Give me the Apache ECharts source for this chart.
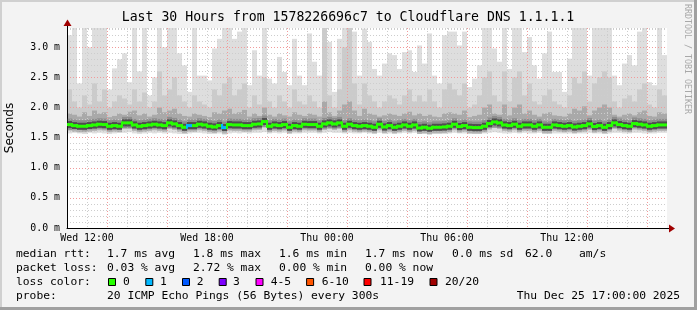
<!DOCTYPE html>
<html><head><meta charset="utf-8">
<script src="https://cdn.jsdelivr.net/npm/echarts@6/dist/echarts.min.js"></script>
<style>html,body{margin:0;padding:0;background:#f3f3f3}#c{width:697px;height:310px}</style>
</head><body><div id="c"></div>
<script>
// ---- data (values in milliseconds, one sample per 15 minutes, starting Wed 11:00) ----
const xTickLabels = ['Wed 12:00','Wed 18:00','Thu 00:00','Thu 06:00','Thu 12:00'];
const yTickLabels = ['0.0 m','0.5 m','1.0 m','1.5 m','2.0 m','2.5 m','3.0 m'];
const sampleHours = 0.25;

const rttMax = [
 3.2,3.4,2.4,3.4,3.0,3.4,3.4,3.4,2.3,2.65,2.8,2.9,2.42,3.4,2.6,3.4,2.2,2.5,3.4,3.0,3.4,3.4,2.9,2.7,
 2.26,3.4,2.53,2.53,2.45,2.98,3.14,3.4,3.4,3.14,3.26,3.4,2.37,2.95,2.53,3.4,2.48,2.4,2.84,2.59,2.37,3.14,2.53,2.37,
 3.23,2.76,2.53,3.4,3.09,2.26,3.14,3.4,3.4,3.26,2.53,3.31,3.09,2.64,2.53,2.73,2.9,2.87,2.64,2.92,2.95,2.59,3.03,2.73,
 3.23,2.53,2.4,3.2,3.26,3.26,3.03,3.26,2.34,2.48,2.7,3.4,3.4,2.98,2.76,3.4,2.64,3.4,3.4,2.92,3.17,2.7,2.48,2.9,
 3.26,2.59,2.59,2.26,2.81,3.4,3.4,3.4,2.53,3.4,3.4,3.4,3.4,2.53,2.37,2.73,2.87,2.7,3.26,3.4,2.42,2.37,3.4,2.87
];
const rttHigh = [
 2.3,2.1,2.0,2.2,2.05,2.4,2.1,2.3,2.0,2.1,2.2,2.15,2.05,2.3,2.1,2.25,2.0,2.1,2.6,2.2,2.3,2.5,2.2,2.1,
 2.0,2.2,2.1,2.05,2.0,2.3,2.2,2.4,2.5,2.2,2.3,2.4,2.0,2.2,2.05,2.5,2.1,2.0,2.2,2.1,2.0,2.3,2.1,2.05,
 2.2,2.1,2.0,3.4,2.2,2.0,2.3,3.0,3.4,2.4,2.05,2.4,2.2,2.1,2.0,2.1,2.2,2.15,2.05,2.2,2.3,2.1,2.2,2.1,
 2.3,2.1,2.0,2.3,2.4,2.3,2.2,2.4,2.0,2.05,2.2,2.5,2.6,2.2,2.1,2.6,2.1,2.5,2.6,2.2,2.4,2.1,2.05,2.2,
 2.3,2.1,2.05,2.0,2.2,2.5,2.4,2.6,2.1,2.4,2.5,2.6,2.5,2.1,2.0,2.15,2.2,2.1,2.3,2.4,2.05,2.0,2.3,2.2
];
const rttUpper = [
 1.9,1.88,1.85,1.92,1.86,1.95,1.9,1.92,1.84,1.86,1.9,1.88,1.93,1.95,1.87,1.9,1.85,1.88,2.0,1.92,1.95,1.98,1.9,1.86,
 1.85,1.9,1.88,1.86,1.84,1.92,1.9,1.95,1.98,1.9,1.92,1.96,1.85,1.9,1.86,2.0,1.88,1.85,1.9,1.87,1.85,1.92,1.88,1.86,
 1.9,1.88,1.85,2.1,1.92,1.86,1.95,2.05,2.1,1.95,1.86,1.98,1.9,1.88,1.85,1.87,1.9,1.88,1.86,1.9,1.93,1.87,1.9,1.86,
 1.88,1.85,1.84,1.9,1.92,1.9,1.88,1.95,1.84,1.86,1.88,2.0,2.05,1.9,1.88,2.05,1.87,2.0,2.05,1.9,1.95,1.88,1.85,1.9,
 1.92,1.87,1.86,1.85,1.9,1.98,1.95,2.02,1.87,1.95,2.0,2.05,2.0,1.88,1.85,1.88,1.9,1.87,1.92,1.95,1.86,1.85,1.92,1.9
];
const rttMedian = [
 1.717,1.7,1.689,1.689,1.7,1.711,1.722,1.717,1.689,1.7,1.689,1.745,1.745,1.711,1.689,1.7,1.711,1.722,1.711,1.7,1.745,1.728,1.7,1.672,
 1.7,1.7,1.722,1.711,1.689,1.678,1.7,1.667,1.717,1.711,1.711,1.7,1.7,1.722,1.728,1.767,1.689,1.711,1.7,1.717,1.672,1.7,1.689,1.722,
 1.717,1.717,1.689,1.728,1.745,1.728,1.745,1.689,1.722,1.7,1.689,1.7,1.689,1.672,1.722,1.678,1.7,1.672,1.689,1.711,1.689,1.711,1.661,1.672,
 1.656,1.672,1.672,1.678,1.689,1.722,1.684,1.7,1.672,1.667,1.667,1.689,1.734,1.76,1.745,1.711,1.7,1.722,1.689,1.711,1.711,1.689,1.711,1.672,
 1.672,1.711,1.7,1.689,1.7,1.678,1.689,1.7,1.728,1.684,1.7,1.672,1.7,1.745,1.717,1.7,1.689,1.734,1.722,1.711,1.689,1.7,1.711,1.711
];
const rttLower = [
 1.63,1.64,1.63,1.62,1.64,1.64,1.65,1.64,1.62,1.63,1.63,1.66,1.66,1.64,1.62,1.63,1.64,1.65,1.64,1.63,1.66,1.65,1.63,1.61,
 1.63,1.63,1.65,1.64,1.62,1.62,1.63,1.61,1.64,1.64,1.64,1.63,1.63,1.65,1.65,1.68,1.62,1.64,1.63,1.64,1.61,1.63,1.62,1.65,
 1.64,1.64,1.62,1.65,1.66,1.65,1.66,1.62,1.65,1.63,1.62,1.63,1.62,1.61,1.65,1.61,1.63,1.61,1.62,1.64,1.62,1.64,1.60,1.61,
 1.60,1.61,1.61,1.61,1.62,1.65,1.62,1.63,1.61,1.60,1.60,1.62,1.66,1.67,1.66,1.64,1.63,1.65,1.62,1.64,1.64,1.62,1.64,1.61,
 1.61,1.64,1.63,1.62,1.63,1.61,1.62,1.63,1.65,1.62,1.63,1.61,1.63,1.66,1.65,1.63,1.62,1.66,1.65,1.64,1.62,1.63,1.64,1.64
];
const rttMin = [
 1.57,1.58,1.57,1.56,1.58,1.57,1.58,1.57,1.56,1.57,1.58,1.58,1.59,1.57,1.56,1.57,1.58,1.57,1.58,1.57,1.58,1.57,1.56,1.56,
 1.57,1.58,1.58,1.57,1.56,1.56,1.57,1.55,1.57,1.58,1.57,1.58,1.57,1.58,1.58,1.59,1.57,1.58,1.57,1.58,1.56,1.57,1.57,1.58,
 1.58,1.58,1.57,1.58,1.59,1.58,1.58,1.57,1.58,1.57,1.57,1.58,1.57,1.56,1.58,1.56,1.57,1.56,1.57,1.58,1.57,1.58,1.56,1.56,
 1.55,1.56,1.56,1.56,1.57,1.58,1.57,1.57,1.56,1.56,1.56,1.57,1.58,1.59,1.58,1.57,1.57,1.58,1.57,1.58,1.57,1.57,1.58,1.56,
 1.56,1.57,1.57,1.57,1.57,1.56,1.57,1.57,1.58,1.57,1.57,1.56,1.57,1.58,1.58,1.57,1.57,1.58,1.58,1.57,1.57,1.57,1.58,1.58
];
const lossSampleIdx = [24, 31];
const lossSampleCnt = [1, 1];

const lossLabels = ['0','1','2','3','4-5','6-10','11-19','20/20'];
const lossUpTo   = [0, 1, 2, 3, 5, 10, 19, 20];
const lossColors = ['#26ff00','#00b8ff','#0059ff','#7e00ff','#ff00ff','#ff5500','#ff0000','#a00000'];

const legendRows = [
  ['median rtt:', '1.7 ms avg', '1.8 ms max', '1.6 ms min', '1.7 ms now', '0.0 ms sd', '62.0', 'am/s'],
  ['packet loss:', '0.03 % avg', '2.72 % max', '0.00 % min', '0.00 % now'],
  ['probe:', '20 ICMP Echo Pings (56 Bytes) every 300s']
];
const titleText = 'Last 30 Hours from 1578226696c7 to Cloudflare DNS 1.1.1.1';
const dateText = 'Thu Dec 25 17:00:00 2025';

// ---- layout ----
const MONO = '"DejaVu Sans Mono", monospace';
const LEG = '11.3px ' + MONO;
const row1X = [16, 107, 193, 279, 365, 452, 525, 579];
const row2X = [16, 107, 193, 279, 365];
const row4X = [16, 107];
const boxX = [108.5, 145.8, 182.5, 219.2, 256, 306.6, 364, 430];
const boxLabelX = [123, 160, 196.7, 233, 270.7, 321.7, 380, 445];
const rowY = [254.5, 268.5, 282.5, 296.5];

const lossPerSample = rttMedian.map(() => 0);
lossSampleIdx.forEach((s, k) => { lossPerSample[s] = lossSampleCnt[k]; });
function lossColor(n) { for (let k = 0; k < lossUpTo.length; k++) if (n <= lossUpTo[k]) return lossColors[k]; return lossColors[lossColors.length-1]; }

const smokeData = rttMedian.map((m, i) => [i*sampleHours, (i+1)*sampleHours, rttMin[i], rttLower[i], rttUpper[i], rttHigh[i], rttMax[i]]);
const medData = rttMedian.map((m, i) => [i*sampleHours, (i+1)*sampleHours, m, lossPerSample[i], i > 0 ? rttMedian[i-1] : m]);

function clampRect(api, params, x0, x1, a, b, fill) {
  const cs = params.coordSys;
  const p0 = api.coord([x0, b]), p1 = api.coord([x1, a]);
  const y0 = Math.max(p0[1], cs.y), y1 = Math.min(p1[1], cs.y + cs.height);
  return { type: 'rect', shape: { x: p0[0], y: y0, width: p1[0]-p0[0], height: Math.max(0, y1-y0) }, style: { fill: fill } };
}
function renderSmoke(params, api) {
  const x0 = api.value(0), x1 = api.value(1);
  return { type: 'group', children: [
    clampRect(api, params, x0, x1, api.value(2), api.value(6), '#dedede'),
    clampRect(api, params, x0, x1, api.value(3), api.value(5), '#cbcbcb'),
    clampRect(api, params, x0, x1, api.value(3), api.value(4), '#a9a9a9')
  ]};
}
function renderMedian(params, api) {
  const x0 = api.value(0), x1 = api.value(1), m = api.value(2), loss = api.value(3), prev = api.value(4);
  const p0 = api.coord([x0, m]), p1 = api.coord([x1, m]), pp = api.coord([x0, prev]);
  const w = p1[0] - p0[0], y = p0[1];
  const col = lossColor(loss);
  const ch = [
    { type: 'rect', shape: { x: p0[0], y: y-6, width: w, height: 12 }, style: { fill: 'rgba(80,80,80,0.3)' } },
    { type: 'rect', shape: { x: p0[0], y: y-3.5, width: w, height: 7 }, style: { fill: 'rgba(25,25,25,0.55)' } },
    { type: 'rect', shape: { x: p0[0], y: y-1.5, width: w, height: 3 }, style: { fill: col } }
  ];
  if (Math.abs(pp[1] - y) > 0.5) {
    const ya = Math.min(pp[1], y) - 1.5, yb = Math.max(pp[1], y) + 1.5;
    ch.push({ type: 'rect', shape: { x: p0[0]-1, y: ya, width: 2, height: yb-ya }, style: { fill: col } });
  }
  return { type: 'group', children: ch };
}

const graphics = [];
// frame
graphics.push({ type: 'rect', shape: { x: 0, y: 0, width: 697, height: 310 }, style: { fill: '#f3f3f3' }, z: -10 });
graphics.push({ type: 'rect', shape: { x: 0, y: 0, width: 697, height: 2 }, style: { fill: '#d0d0d0' }, z: -9 });
graphics.push({ type: 'rect', shape: { x: 0, y: 0, width: 2, height: 310 }, style: { fill: '#d0d0d0' }, z: -9 });
graphics.push({ type: 'rect', shape: { x: 694, y: 0, width: 3, height: 310 }, style: { fill: '#a0a0a0' }, z: -9 });
graphics.push({ type: 'rect', shape: { x: 0, y: 307, width: 697, height: 3 }, style: { fill: '#a0a0a0' }, z: -9 });
// title + side credit
graphics.push({ type: 'text', x: 348, y: 18, style: { text: titleText, font: '13.2px ' + MONO, fill: '#000', align: 'center', verticalAlign: 'middle' } });
graphics.push({ type: 'text', x: 687, y: 59, rotation: -Math.PI/2, style: { text: 'RRDTOOL / TOBI OETIKER', font: '8.3px ' + MONO, fill: '#a8a8a8', align: 'center', verticalAlign: 'middle' } });
// axis arrows
graphics.push({ type: 'line', shape: { x1: 667, y1: 228.5, x2: 670, y2: 228.5 }, style: { stroke: '#000', lineWidth: 1 }, z: 20 });
graphics.push({ type: 'polygon', shape: { points: [[669, 224.5], [675, 228.5], [669, 232.5]] }, style: { fill: '#a00000' }, z: 20 });
graphics.push({ type: 'line', shape: { x1: 67.5, y1: 28, x2: 67.5, y2: 25 }, style: { stroke: '#000', lineWidth: 1 }, z: 20 });
graphics.push({ type: 'polygon', shape: { points: [[63.5, 26], [67.5, 19.5], [71.5, 26]] }, style: { fill: '#a00000' }, z: 20 });
// legend text
function txt(s, x, y) { graphics.push({ type: 'text', x: x, y: y, style: { text: s, font: LEG, fill: '#000', align: 'left', verticalAlign: 'middle' } }); }
legendRows[0].forEach((s, k) => txt(s, row1X[k], rowY[0]));
legendRows[1].forEach((s, k) => txt(s, row2X[k], rowY[1]));
txt('loss color:', 16, rowY[2]);
lossLabels.forEach((s, k) => {
  graphics.push({ type: 'rect', shape: { x: boxX[k], y: rowY[2]-4, width: 7, height: 7 }, style: { fill: lossColors[k], stroke: '#000', lineWidth: 1 } });
  txt(s, boxLabelX[k], rowY[2]);
});
legendRows[2].forEach((s, k) => txt(s, row4X[k], rowY[3]));
graphics.push({ type: 'text', x: 680, y: rowY[3], style: { text: dateText, font: LEG, fill: '#000', align: 'right', verticalAlign: 'middle' } });

const chart = echarts.init(document.getElementById('c'), null, { renderer: 'canvas' });
const GRID = '#cdcdcd', MGRID = '#f29a9a';
chart.setOption({
  animation: false,
  backgroundColor: '#f3f3f3',
  grid: { left: 67, top: 28, width: 600, height: 200, show: true, backgroundColor: '#ffffff', borderWidth: 0, containLabel: false, outerBoundsMode: 'none' },
  xAxis: {
    type: 'value', min: 0, max: 30, interval: 1, z: 3,
    axisLine: { show: true, onZero: false, lineStyle: { color: '#000', width: 1 } },
    axisTick: { show: false },
    axisLabel: { margin: 5, color: '#000', fontFamily: MONO, fontSize: 9.9, hideOverlap: false,
      formatter: v => (Math.round(v) % 6 === 1 ? xTickLabels[(Math.round(v) - 1) / 6] : '') },
    splitLine: { show: true, showMinLine: false, showMaxLine: false, lineStyle: { color: [GRID, MGRID, GRID], type: [1, 2], width: 1 } }
  },
  yAxis: {
    type: 'value', min: 0, max: 3.32, interval: 0.1, z: 3,
    name: 'Seconds', nameLocation: 'middle', nameGap: 51, nameRotate: 90,
    nameTextStyle: { color: '#000', fontFamily: '"DejaVu Sans", sans-serif', fontSize: 12 },
    axisLine: { show: true, lineStyle: { color: '#000', width: 1 } },
    axisTick: { show: false },
    axisLabel: { margin: 7, color: '#000', fontFamily: MONO, fontSize: 9.9,
      formatter: v => { const k = Math.round(v * 2); return Math.abs(v * 2 - k) < 1e-6 ? (yTickLabels[k] || '') : ''; } },
    splitLine: { show: true, lineStyle: { color: [MGRID, GRID, GRID, GRID, GRID], type: [1, 2], width: 1 } }
  },
  series: [
    { type: 'custom', name: 'smoke', renderItem: renderSmoke, data: smokeData, encode: { x: [0, 1], y: [2, 6] }, clip: true, z: 2, silent: true },
    { type: 'custom', name: 'median', renderItem: renderMedian, data: medData, encode: { x: [0, 1], y: 2 }, clip: true, z: 5, silent: true }
  ],
  graphic: graphics
});
</script></body></html>
